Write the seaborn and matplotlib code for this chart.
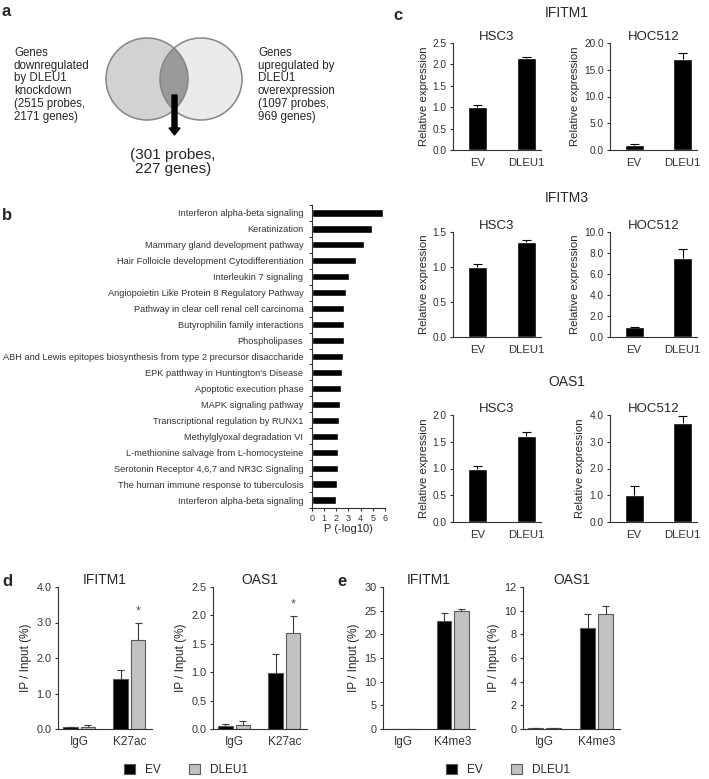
import numpy as np
import pandas as pd
import seaborn as sns
import matplotlib.pyplot as plt
from matplotlib.patches import Circle, FancyArrow
from matplotlib.ticker import FormatStrFormatter

sns.set_style('ticks')
plt.rcParams['font.family'] = ['Liberation Sans', 'DejaVu Sans']
plt.rcParams['axes.edgecolor'] = '#333333'
plt.rcParams['axes.linewidth'] = 0.8
plt.rcParams['xtick.color'] = '#333333'
plt.rcParams['ytick.color'] = '#333333'

W, H = 709, 779

# ---- panel b data ----
pathways = [
    'Interferon alpha-beta signaling',
    'Keratinization',
    'Mammary gland development pathway',
    'Hair Folloicle development Cytodifferentiation',
    'Interleukin 7 signaling',
    'Angiopoietin Like Protein 8 Regulatory Pathway',
    'Pathway in clear cell renal cell carcinoma',
    'Butyrophilin family interactions',
    'Phospholipases',
    'ABH and Lewis epitopes biosynthesis from type 2 precursor disaccharide',
    "EPK patthway in Huntington's Disease",
    'Apoptotic execution phase',
    'MAPK signaling pathway',
    'Transcriptional regulation by RUNX1',
    'Methylglyoxal degradation VI',
    'L-methionine salvage from L-homocysteine',
    'Serotonin Receptor 4,6,7 and NR3C Signaling',
    'The human immune response to tuberculosis',
    'Interferon alpha-beta signaling',
]
pathway_logp = [5.8, 4.9, 4.3, 3.63, 3.08, 2.79, 2.67, 2.67, 2.65, 2.6,
                2.46, 2.38, 2.35, 2.27, 2.19, 2.19, 2.19, 2.05, 2.0]

# ---- panel c data ----
conditions = ['EV', 'DLEU1']
ifitm1_hsc3 = [1.0, 2.14]
ifitm1_hsc3_err = [0.04, 0.03]
ifitm1_hoc512 = [1.0, 17.1]
ifitm1_hoc512_err = [0.1, 0.95]
ifitm3_hsc3 = [1.0, 1.36]
ifitm3_hsc3_err = [0.04, 0.03]
ifitm3_hoc512 = [0.95, 7.5]
ifitm3_hoc512_err = [0.05, 0.85]
oas1_hsc3 = [1.0, 1.61]
oas1_hsc3_err = [0.05, 0.07]
oas1_hoc512 = [1.0, 3.7]
oas1_hoc512_err = [0.33, 0.25]

# ---- panels d / e data ----
groups = ['EV', 'DLEU1']
d_marks = ['IgG', 'K27ac']
e_marks = ['IgG', 'K4me3']
d_ifitm1_ev = [0.06, 1.40]
d_ifitm1_ev_err = [0.01, 0.27]
d_ifitm1_dleu1 = [0.07, 2.52]
d_ifitm1_dleu1_err = [0.03, 0.47]
d_oas1_ev = [0.05, 0.98]
d_oas1_ev_err = [0.03, 0.34]
d_oas1_dleu1 = [0.07, 1.69]
d_oas1_dleu1_err = [0.07, 0.30]
e_ifitm1_ev = [0.05, 22.9]
e_ifitm1_ev_err = [0.02, 1.7]
e_ifitm1_dleu1 = [0.05, 25.0]
e_ifitm1_dleu1_err = [0.02, 0.45]
e_oas1_ev = [0.05, 8.5]
e_oas1_ev_err = [0.02, 1.2]
e_oas1_dleu1 = [0.08, 9.7]
e_oas1_dleu1_err = [0.04, 0.7]

fig = plt.figure(figsize=(W / 100, H / 100), dpi=100)


def px_axes(x0, y0, x1, y1):
    return fig.add_axes([x0 / W, 1 - y1 / H, (x1 - x0) / W, (y1 - y0) / H])


def up_errors(ax, errs_by_hue, color):
    for cont, errs in zip(ax.containers, errs_by_hue):
        for bar, err in zip(cont, errs):
            xc = bar.get_x() + bar.get_width() / 2
            top = bar.get_height()
            cw = bar.get_width() * 0.24
            ax.vlines(xc, top, top + err, color=color, lw=0.8, zorder=3)
            ax.hlines(top + err, xc - cw, xc + cw, color=color, lw=0.8, zorder=3)


# ---- panel a: venn ----
ax_a = px_axes(0, 0, 360, 180)
ax_a.set_xlim(0, 360)
ax_a.set_ylim(180, 0)
ax_a.axis('off')
left_c = Circle((147, 79), 41, fc='#d2d2d2', ec='none')
right_c = Circle((201, 79), 41, fc='#ebebeb', ec='none')
ax_a.add_patch(left_c)
ax_a.add_patch(right_c)
over = Circle((201, 79), 41, fc='#9a9a9a', ec='none')
ax_a.add_patch(over)
over.set_clip_path(left_c)
ax_a.add_patch(Circle((147, 79), 41, fc='none', ec='#858585', lw=1.1))
ax_a.add_patch(Circle((201, 79), 41, fc='none', ec='#858585', lw=1.1))
ax_a.add_patch(FancyArrow(174.5, 95, 0, 40, width=5, head_width=11, head_length=7,
                          length_includes_head=True, color='black', zorder=5))
ax_a.text(14, 47, 'Genes\ndownregulated\nby DLEU1\nknockdown\n(2515 probes,\n2171 genes)',
          fontsize=8.3, va='top', ha='left', linespacing=1.08)
ax_a.text(258, 47, 'Genes\nupregulated by\nDLEU1\noverexpression\n(1097 probes,\n969 genes)',
          fontsize=8.3, va='top', ha='left', linespacing=1.08)
ax_a.text(173, 162, '(301 probes,\n227 genes)', fontsize=11, ha='center', va='center',
          linespacing=1.05)

# ---- panel b ----
ax_b = px_axes(311.7, 205, 385, 508)
sns.barplot(x=pathway_logp, y=np.arange(len(pathways)), orient='h', color='black',
            width=0.45, errorbar=None, ax=ax_b)
ax_b.set_xlim(0, 6)
ax_b.set_ylim(18.5, -0.5)
ax_b.set_xticks(range(7))
ax_b.set_yticks(range(len(pathways)), pathways)
ax_b.set_yticks(np.arange(-0.5, 19, 1), minor=True)
ax_b.tick_params(axis='y', which='major', length=0, labelsize=6.7, pad=6)
ax_b.tick_params(axis='y', which='minor', length=2.5, width=0.8)
ax_b.tick_params(axis='x', length=2.5, width=0.8, labelsize=6.5, pad=1.5)
ax_b.set_xlabel('P (-log10)', fontsize=8, labelpad=1)
ax_b.set_ylabel('')
sns.despine(ax=ax_b)

# ---- panel c ----
c_cols = [(453, 541), (610, 697)]
c_rows = [(43, 150), (232, 337), (415, 522)]
c_titles = ['IFITM1', 'IFITM3', 'OAS1']
c_title_y = [13, 198, 382]
c_vals = [[ifitm1_hsc3, ifitm1_hoc512], [ifitm3_hsc3, ifitm3_hoc512], [oas1_hsc3, oas1_hoc512]]
c_errs = [[ifitm1_hsc3_err, ifitm1_hoc512_err], [ifitm3_hsc3_err, ifitm3_hoc512_err],
          [oas1_hsc3_err, oas1_hoc512_err]]
c_ylims = [[(2.5, 0.5), (20, 5)], [(1.5, 0.5), (10, 2)], [(2.0, 0.5), (4.0, 1.0)]]
cells = ['HSC3', 'HOC512']
for r, (y0, y1) in enumerate(c_rows):
    fig.text(567 / W, 1 - c_title_y[r] / H, c_titles[r], fontsize=10, ha='center', va='center')
    for k, (x0, x1) in enumerate(c_cols):
        ax = px_axes(x0, y0, x1, y1)
        sns.barplot(x=conditions, y=c_vals[r][k], color='black', width=0.39,
                    errorbar=None, ax=ax)
        up_errors(ax, [c_errs[r][k]], 'black')
        top, step = c_ylims[r][k]
        ax.set_ylim(0, top)
        ax.set_yticks(np.arange(0, top + step / 2, step))
        ax.yaxis.set_major_formatter(FormatStrFormatter('%.1f'))
        ax.set_xlim(-0.5, 1.3)
        ax.tick_params(axis='y', length=2.5, width=0.8, labelsize=7.3, pad=2)
        ax.tick_params(axis='x', length=0, labelsize=8.2, pad=6)
        ax.set_ylabel('Relative expression', fontsize=8.2, labelpad=3)
        ax.set_title(cells[k], fontsize=9.5, pad=2.5)
        sns.despine(ax=ax)

# ---- panels d / e ----
de_specs = [
    ((58, 152), 'IFITM1', d_marks, d_ifitm1_ev, d_ifitm1_ev_err, d_ifitm1_dleu1, d_ifitm1_dleu1_err, (4.0, 1.0), '%.1f', True),
    ((213, 307), 'OAS1', d_marks, d_oas1_ev, d_oas1_ev_err, d_oas1_dleu1, d_oas1_dleu1_err, (2.5, 0.5), '%.1f', True),
    ((383, 475), 'IFITM1', e_marks, e_ifitm1_ev, e_ifitm1_ev_err, e_ifitm1_dleu1, e_ifitm1_dleu1_err, (30, 5), '%d', False),
    ((523, 620), 'OAS1', e_marks, e_oas1_ev, e_oas1_ev_err, e_oas1_dleu1, e_oas1_dleu1_err, (12, 2), '%d', False),
]
legend_parts = []
for (x0, x1), title, marks, ev, ev_err, dl, dl_err, (top, step), fmt, star in de_specs:
    ax = px_axes(x0, 587, x1, 729)
    df = pd.DataFrame({
        'mark': marks + marks,
        'group': [groups[0]] * 2 + [groups[1]] * 2,
        'value': ev + dl,
    })
    sns.barplot(data=df, x='mark', y='value', hue='group', hue_order=groups,
                palette={'EV': 'black', 'DLEU1': '#c2c2c2'}, edgecolor='#5a5a5a',
                linewidth=0.8, width=0.7, gap=0.18, errorbar=None, ax=ax)
    up_errors(ax, [ev_err, dl_err], '#3a3a3a')
    leg = ax.get_legend()
    legend_parts.append((leg.legend_handles, [t.get_text() for t in leg.get_texts()]))
    leg.remove()
    if star:
        bar = ax.containers[1][1]
        ax.text(bar.get_x() + bar.get_width() / 2, dl[1] + dl_err[1] + top * 0.04, '*',
                ha='center', va='bottom', fontsize=9, color='#555555')
    ax.set_ylim(0, top)
    ax.set_yticks(np.arange(0, top + step / 2, step))
    ax.yaxis.set_major_formatter(FormatStrFormatter(fmt))
    ax.set_xlim(-0.42, 1.45)
    ax.tick_params(axis='y', length=2.5, width=0.8, labelsize=7.8, pad=2)
    ax.tick_params(axis='x', length=0, labelsize=8.5, pad=5)
    ax.set_xlabel('')
    ax.set_ylabel('IP / Input (%)', fontsize=8.5, labelpad=3)
    ax.set_title(title, fontsize=10, pad=1)
    sns.despine(ax=ax)

for (handles, labels), cx in zip([legend_parts[0], legend_parts[2]], [186, 508]):
    fig.legend(handles, labels, loc='center', bbox_to_anchor=(cx / W, 1 - 770 / H),
               ncol=2, frameon=False, fontsize=8.5, handlelength=0.95, handleheight=0.95,
               handletextpad=0.85, columnspacing=2.4)

# panel letters
for letter, (lx, ly) in zip('abcde', [(2, 11), (2, 215), (393, 15), (2, 582), (337, 582)]):
    fig.text(lx / W, 1 - ly / H, letter, fontsize=12, fontweight='bold', ha='left', va='center')

fig.savefig('out.png', dpi=100)
